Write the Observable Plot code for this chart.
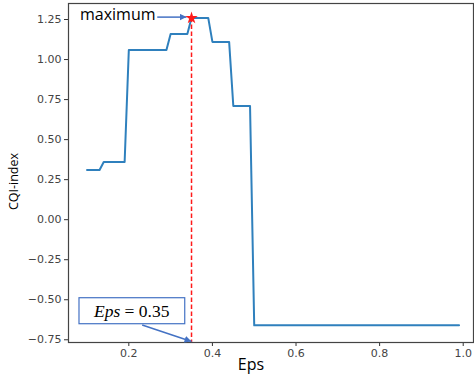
<!DOCTYPE html>
<html>
<head>
<meta charset="utf-8">
<script src="https://cdn.jsdelivr.net/npm/d3@7"></script>
<script src="https://cdn.jsdelivr.net/npm/@observablehq/plot@0.6"></script>
<style>
  html, body { margin: 0; padding: 0; background: #fff; }
  #chart { width: 474px; height: 374px; }
</style>
</head>
<body>
<div id="chart"></div>
<script>
// ---- data ----
const epsValues = [0.10, 0.13, 0.14, 0.19, 0.20, 0.29, 0.30, 0.34, 0.35, 0.39, 0.40, 0.44, 0.45, 0.49, 0.50, 0.99];
const cqiValues = [0.31, 0.31, 0.36, 0.36, 1.06, 1.06, 1.16, 1.16, 1.26, 1.26, 1.11, 1.11, 0.71, 0.71, -0.66, -0.66];
const xTicks = [0.2, 0.4, 0.6, 0.8, 1.0];
const yTicks = [-0.75, -0.50, -0.25, 0.00, 0.25, 0.50, 0.75, 1.00, 1.25];
const xLabel = "Eps";
const yLabel = "CQI-index";
const maxLabel = "maximum";

// ---- build ----
const data = epsValues.map((e, i) => ({eps: e, cqi: cqiValues[i]}));
const best = data.reduce((a, b) => (b.cqi > a.cqi ? b : a));
const xDomain = [0.0557, 1.0246];
const yDomain = [-0.767, 1.35];
const blue = "#4472c4";
const M = {left: 68, right: 1, top: 3, bottom: 32};

const epsText = `${xLabel} = ${best.eps.toFixed(2)}`;

const chart = Plot.plot({
  width: 474,
  height: 374,
  marginLeft: M.left,
  marginRight: M.right,
  marginTop: M.top,
  marginBottom: M.bottom,
  x: {domain: xDomain},
  y: {domain: yDomain},
  style: {fontFamily: "DejaVu Sans", fontSize: "11px", color: "#444", background: "#fff"},
  marks: [
    Plot.axisX(xTicks, {tickSize: 4, tickPadding: 3, tickFormat: ".1f", label: null, stroke: "#333", fill: "#444"}),
    Plot.axisY(yTicks, {tickSize: 4, tickPadding: 3, tickFormat: ".2f", label: null, stroke: "#333", fill: "#444"}),
    Plot.frame({stroke: "#444", strokeWidth: 1.2}),
    Plot.line(data, {x: "eps", y: "cqi", stroke: "#2f80bd", strokeWidth: 2}),
    Plot.ruleX([best], {x: "eps", y1: "cqi", y2: () => yDomain[0], stroke: "#ff1a1a", strokeWidth: 1.5, strokeDasharray: "4.5,2.5"}),
    // maximum annotation
    Plot.link([best], {x1: d => d.eps - 0.082, x2: d => d.eps - 0.012, y1: d => d.cqi + 0.005, y2: d => d.cqi + 0.005, stroke: blue, strokeWidth: 1.5}),
    Plot.dot([best], {x: "eps", y: "cqi", symbol: "star", fill: "#ff1a1a", stroke: "none", r: 3.9}),
    Plot.text([best], {x: d => d.eps - 0.086, y: "cqi", text: () => maxLabel, textAnchor: "end", lineAnchor: "bottom", dy: 2, fontFamily: "Open Sans", fontSize: 16, fill: "#000"}),
    // Eps annotation
    Plot.link([best], {x1: d => d.eps - 0.118, y1: () => -0.658, x2: "eps", y2: () => yDomain[0] + 0.006, stroke: blue, strokeWidth: 1.5}),
    Plot.text([best], {x: d => d.eps - 0.143, y: () => -0.571, text: () => epsText, textAnchor: "middle", lineAnchor: "middle", fontFamily: "Liberation Serif", fontSize: 17.5, fill: "#000", ariaDescription: "epsbox"}),
    // axis labels
    Plot.text([xLabel], {frameAnchor: "bottom", text: d => d, dx: -20, dy: 27, lineAnchor: "bottom", fontFamily: "Open Sans", fontSize: 16, fill: "#000"}),
    Plot.text([yLabel], {frameAnchor: "left", text: d => d, rotate: -90, textAnchor: "middle", lineAnchor: "middle", fontFamily: "Open Sans", fontSize: 12.5, fill: "#000", ariaDescription: "ylabel"})
  ]
});

document.getElementById("chart").appendChild(chart);

const svg = d3.select(chart);

// y label: place left of the tick labels, slightly below the frame's centre
svg.selectAll('g[aria-description="ylabel"]').attr("transform", null)
  .selectAll("text")
  .attr("text-anchor", "middle")
  .attr("transform", `translate(${M.left - 54},${(M.top + 374 - M.bottom) / 2 + 9}) rotate(-90)`);

// filled arrow heads on annotation links
const defs = svg.insert("defs", ":first-child");
defs.append("marker")
  .attr("id", "ahead")
  .attr("viewBox", "0 0 10 10")
  .attr("refX", 10).attr("refY", 5)
  .attr("markerWidth", 7).attr("markerHeight", 7)
  .attr("markerUnits", "userSpaceOnUse")
  .attr("orient", "auto")
  .append("path").attr("d", "M0,0L10,5L0,10Z").attr("fill", blue);
svg.selectAll('g[aria-label="link"] path, g[aria-label="link"] line').attr("marker-end", "url(#ahead)");

// italic "Eps" and a framed box around the Eps text
svg.selectAll('g[aria-description="epsbox"] text').each(function () {
  const t = d3.select(this);
  const full = t.text();
  const parts = full.split(" = ");
  t.text(null);
  t.append("tspan").attr("font-style", "italic").text(parts[0]);
  t.append("tspan").text(" = " + parts[1]);
  const bb = this.getBBox();
  const g = this.parentNode;
  d3.select(g).insert("rect", ":first-child")
    .attr("x", bb.x - 14).attr("y", bb.y - 3)
    .attr("width", bb.width + 29).attr("height", bb.height + 6)
    .attr("transform", t.attr("transform"))
    .attr("fill", "#fff").attr("stroke", blue).attr("stroke-width", 1.2);
});
</script>
</body>
</html>
